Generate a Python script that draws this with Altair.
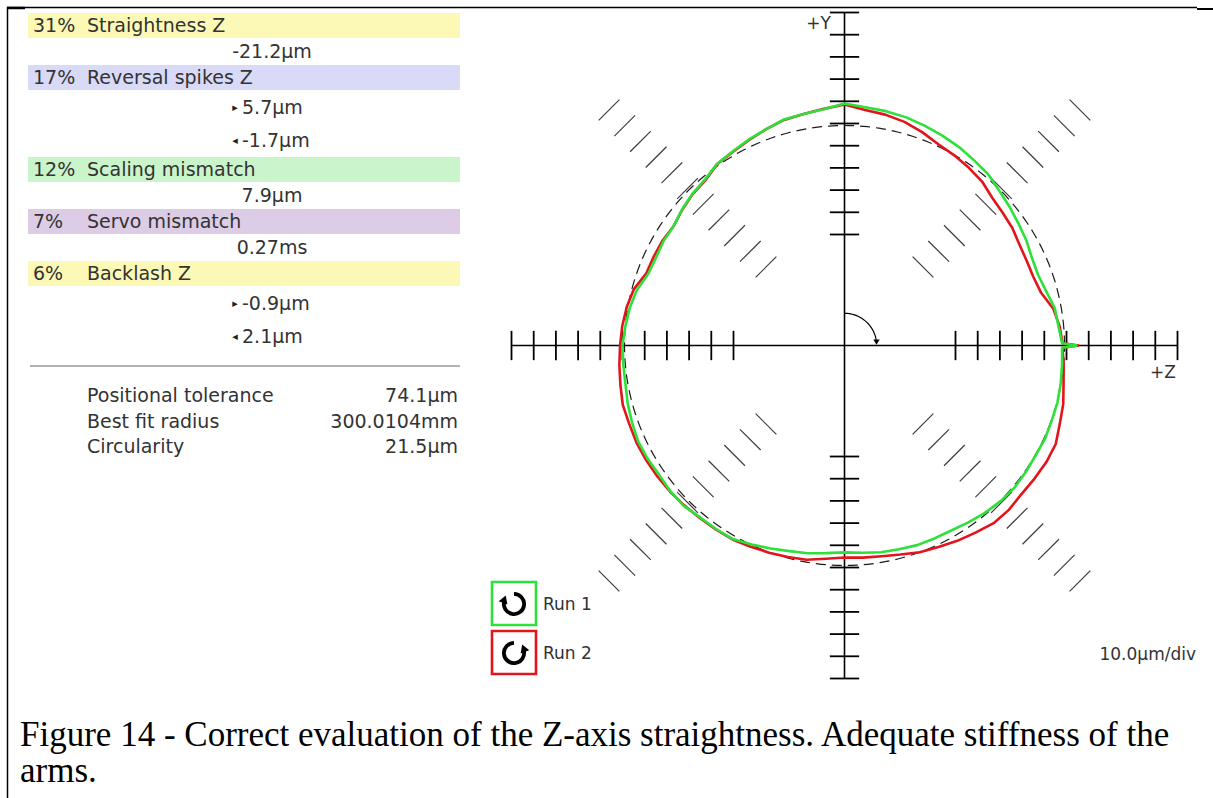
import math
import numpy as np
import pandas as pd
import altair as alt

# ---------------------------------------------------------------- values
FACTOR_SHARES = ["31%", "17%", "12%", "7%", "6%"]
FACTOR_NAMES = ["Straightness Z", "Reversal spikes Z", "Scaling mismatch",
                "Servo mismatch", "Backlash Z"]
FACTOR_COLORS = ["#fbf9b5", "#d9d9f8", "#caf4ca", "#dccce6", "#fbf9b5"]
# result lines under each factor: (direction marker, value)
FACTOR_RESULTS = [
    [("", "-21.2µm")],
    [("▸", "5.7µm"), ("◂", "-1.7µm")],
    [("", "7.9µm")],
    [("", "0.27ms")],
    [("▸", "-0.9µm"), ("◂", "2.1µm")],
]
SUMMARY_LABELS = ["Positional tolerance", "Best fit radius", "Circularity"]
SUMMARY_VALUES = ["74.1µm", "300.0104mm", "21.5µm"]

RUN_NAMES = ["Run 1", "Run 2"]
SCALE_LABEL = "10.0µm/div"
UM_PER_DIV = 10.0
BEST_FIT_DIV = 9.91          # best-fit circle radius on the plot, in divisions

# radial deviation from the best-fit circle (µm), every 5° from +Z counter-clockwise
GRID_ANGLES = list(range(0, 360, 5))
RUN1_DEV = [-1.1, -2.3, -2.9, -5.0, -6.3, -5.9, -4.5, -3.4, -2.0, -0.5,
            1.6, 2.7, 4.1, 5.2, 6.3, 7.4, 8.1, 8.6, 9.9, 7.7,
            6.8, 6.3, 4.5, 3.2, 1.8, 0.9, -1.4, -2.3, -3.6, -5.2,
            -5.0, -5.4, -5.0, -2.3, -0.9, 0.0, 0.9, 0.9, 1.1, 2.0,
            2.7, 3.4, 3.2, 2.7, 3.2, 3.2, 2.0, 1.8, 1.6, -0.2,
            -1.8, -3.2, -4.1, -5.2, -5.9, -5.4, -4.5, -4.1, -3.4, -3.2,
            -2.9, -1.8, -0.7, 0.2, 0.7, 0.5, 0.2, 0.5, 0.2, 0.2,
            -0.2, -0.7]
RUN2_DEV = [-0.9, -1.8, -3.6, -7.4, -8.6, -8.6, -8.1, -6.8, -6.1, -5.0,
            -2.7, -1.4, -0.2, 0.9, 3.2, 5.2, 6.5, 7.4, 9.5, 7.9,
            6.8, 6.1, 4.5, 2.9, 1.6, 0.7, -1.8, -2.5, -3.8, -5.2,
            -4.5, -4.3, -4.1, -0.9, 0.5, 1.4, 2.0, 2.7, 3.4, 4.3,
            4.1, 4.3, 4.1, 3.8, 3.4, 2.9, 2.3, 2.0, 1.8, 0.9,
            0.2, -0.5, -1.1, -2.7, -3.6, -3.2, -2.7, -1.6, 0.0, 1.1,
            2.5, 3.8, 5.4, 5.6, 5.0, 5.4, 5.9, 5.9, 4.1, 2.9,
            1.1, 0.0]
# reversal spike at the +Z crossing (µm)
RUN1_SPIKE = 5.8
RUN2_SPIKE = 6.5

# ---------------------------------------------------------------- layout
W, H = 1213, 798
PX_PER_DIV = 22.2
CX, CY = 844.5, 345.5
TEXT = "#333333"
GREEN = "#2ee03a"
RED = "#e3141b"
FONT = "DejaVu Sans"
FS = 19

xs = alt.Scale(domain=[-CX / PX_PER_DIV, (W - CX) / PX_PER_DIV], nice=False, zero=False)
ys = alt.Scale(domain=[-(H - CY) / PX_PER_DIV, CY / PX_PER_DIV], nice=False, zero=False)

one = pd.DataFrame({"v": [0]})


def text(s, x, y, size=FS, align="left", color=TEXT, font=FONT, baseline="middle"):
    return alt.Chart(one).mark_text(
        text=s, align=align, baseline=baseline, font=font, fontSize=size, color=color
    ).encode(x=alt.value(x), y=alt.value(y))


def box(x0, x1, y0, y1, **kw):
    return alt.Chart(one).mark_rect(**kw).encode(
        x=alt.value(x0), x2=alt.value(x1), y=alt.value(y0), y2=alt.value(y1))


def rule(x0, x1, y0, y1, color="black", width=1.0):
    return alt.Chart(one).mark_rule(color=color, strokeWidth=width).encode(
        x=alt.value(x0), x2=alt.value(x1), y=alt.value(y0), y2=alt.value(y1))


layers = []

# frame
layers += [rule(7, 1197, 7.5, 7.5, width=1.5), rule(7, 25, 8, 8, width=2.5),
           rule(1197, 1213, 9, 9, width=2), rule(7.5, 7.5, 7, H, width=1.5)]

# ---------------------------------------------------------------- results panel
y = 13
for share, name, col, results in zip(FACTOR_SHARES, FACTOR_NAMES, FACTOR_COLORS, FACTOR_RESULTS):
    layers.append(box(28, 460, y, y + 25, color=col))
    layers.append(text(share, 33, y + 13))
    layers.append(text(name, 87, y + 13))
    y += 26
    for marker, val in results:
        if marker:
            layers.append(text(marker, 235, y + 16.5, size=11, align="center", color="#222222"))
            layers.append(text(val, 242, y + 16.5))
            y += 33
        else:
            layers.append(text(val, 272, y + 13, align="center"))
            y += 26

layers.append(rule(30, 460, 366, 366, color="#9a9a9a", width=1.5))
for i, (lab, val) in enumerate(zip(SUMMARY_LABELS, SUMMARY_VALUES)):
    layers.append(text(lab, 87, 396 + 25.7 * i))
    layers.append(text(val, 458, 396 + 25.7 * i, align="right"))

# ---------------------------------------------------------------- polar plot frame
ENC = dict(x=alt.X("x:Q", scale=xs, axis=None), y=alt.Y("y:Q", scale=ys, axis=None),
           x2="x2:Q", y2="y2:Q")

axes = pd.DataFrame({"x": [-15, 0], "y": [0, -15], "x2": [15, 0], "y2": [0, 15]})
layers.append(alt.Chart(axes).mark_rule(color="black", strokeWidth=1.6).encode(**ENC))

half = 0.66
rows = []
for d in range(0, 360, 45):
    a = math.radians(d)
    ux, uy = math.cos(a), math.sin(a)
    for k in range(5, 16):
        rows.append({"diag": d % 90 != 0,
                     "x": k * ux - half * uy, "y": k * uy + half * ux,
                     "x2": k * ux + half * uy, "y2": k * uy - half * ux})
ticks = pd.DataFrame(rows)
layers.append(alt.Chart(ticks[~ticks.diag]).mark_rule(color="black", strokeWidth=1.8).encode(**ENC))
layers.append(alt.Chart(ticks[ticks.diag]).mark_rule(color="#3c3c3c", strokeWidth=1.2).encode(**ENC))

PT = dict(x=alt.X("x:Q", scale=xs, axis=None), y=alt.Y("y:Q", scale=ys, axis=None), order="i:Q")

# best-fit circle
ang = np.linspace(0, 2 * np.pi, 361)
circle = pd.DataFrame({"i": np.arange(ang.size),
                       "x": BEST_FIT_DIV * np.cos(ang), "y": BEST_FIT_DIV * np.sin(ang)})
layers.append(alt.Chart(circle).mark_line(color="#1a1a1a", strokeWidth=1.2,
                                          strokeDash=[10, 6]).encode(**PT))


# measured runs
def run_frame(dev, spike):
    angles = [0, 0.6] + GRID_ANGLES[1:] + [359.4, 360]
    devs = [spike, dev[0]] + dev[1:] + [dev[0], spike]
    return pd.DataFrame({"i": range(len(angles)), "angle": angles, "dev": devs})


def run_layer(df, color):
    return alt.Chart(df).transform_calculate(
        r=f"{BEST_FIT_DIV} + datum.dev / {UM_PER_DIV}"
    ).transform_calculate(
        x="datum.r * cos(datum.angle * PI / 180)",
        y="datum.r * sin(datum.angle * PI / 180)",
    ).mark_line(color=color, strokeWidth=2.6, strokeJoin="round").encode(**PT)


layers.append(run_layer(run_frame(RUN2_DEV, RUN2_SPIKE), RED))
layers.append(run_layer(run_frame(RUN1_DEV, RUN1_SPIKE), GREEN))

# measurement direction arrow at the centre
ARC_R = 1.45
arc_a = np.radians(np.linspace(90, 10, 30))
arc = pd.DataFrame({"i": np.arange(arc_a.size), "x": ARC_R * np.cos(arc_a), "y": ARC_R * np.sin(arc_a)})
layers.append(alt.Chart(arc).mark_line(color="black", strokeWidth=1.2).encode(**PT))
head = pd.DataFrame({"x": [ARC_R * math.cos(math.radians(6))], "y": [ARC_R * math.sin(math.radians(6))]})
layers.append(alt.Chart(head).mark_point(shape="triangle-down", filled=True, size=40,
                                         color="black", opacity=1).encode(
    x=alt.X("x:Q", scale=xs, axis=None), y=alt.Y("y:Q", scale=ys, axis=None)))

# axis names and scale
layers.append(text("+Y", 831, 24, size=17, align="right"))
layers.append(text("+Z", 1176, 373, size=17, align="right"))
layers.append(text(SCALE_LABEL, 1196, 655, size=17, align="right"))

# ---------------------------------------------------------------- legend
for j, (name, col) in enumerate(zip(RUN_NAMES, [GREEN, RED])):
    cy = 604 + 49 * j
    layers.append(box(492, 536, cy - 22, cy + 21, fillOpacity=0, stroke=col, strokeWidth=2.6))
    if j == 0:   # clockwise
        t0, t1, hang = 0.0, 5.0, 5.0
        rot = 20
    else:        # counter-clockwise
        t0, t1, hang = 1.28, 2 * math.pi, 1.28
        rot = 340
    layers.append(alt.Chart(one).mark_arc(radius=12, radius2=8.2, theta=t0, theta2=t1,
                                          color="black").encode(x=alt.value(514), y=alt.value(cy)))
    layers.append(alt.Chart(one).mark_point(shape="triangle-up", filled=True, size=85, angle=rot,
                                            color="black", opacity=1).encode(
        x=alt.value(514 + 10 * math.sin(hang)), y=alt.value(cy - 10 * math.cos(hang) - 2)))
    layers.append(text(name, 543, cy + 1, size=17))

# ---------------------------------------------------------------- caption
CAPTION = ["Figure 14 - Correct evaluation of the Z-axis straightness. Adequate stiffness of the",
           "arms."]
for i, line in enumerate(CAPTION):
    layers.append(text(line, 20, 746 + 36 * i, size=35, font="Liberation Serif",
                       color="black", baseline="alphabetic"))

chart = alt.layer(*layers).properties(
    width=W, height=H, padding=0, background="white",
    autosize=alt.AutoSizeParams(type="none"),
).configure_view(strokeWidth=0)

chart.save("out.html", embed_options={"renderer": "svg", "actions": False})
